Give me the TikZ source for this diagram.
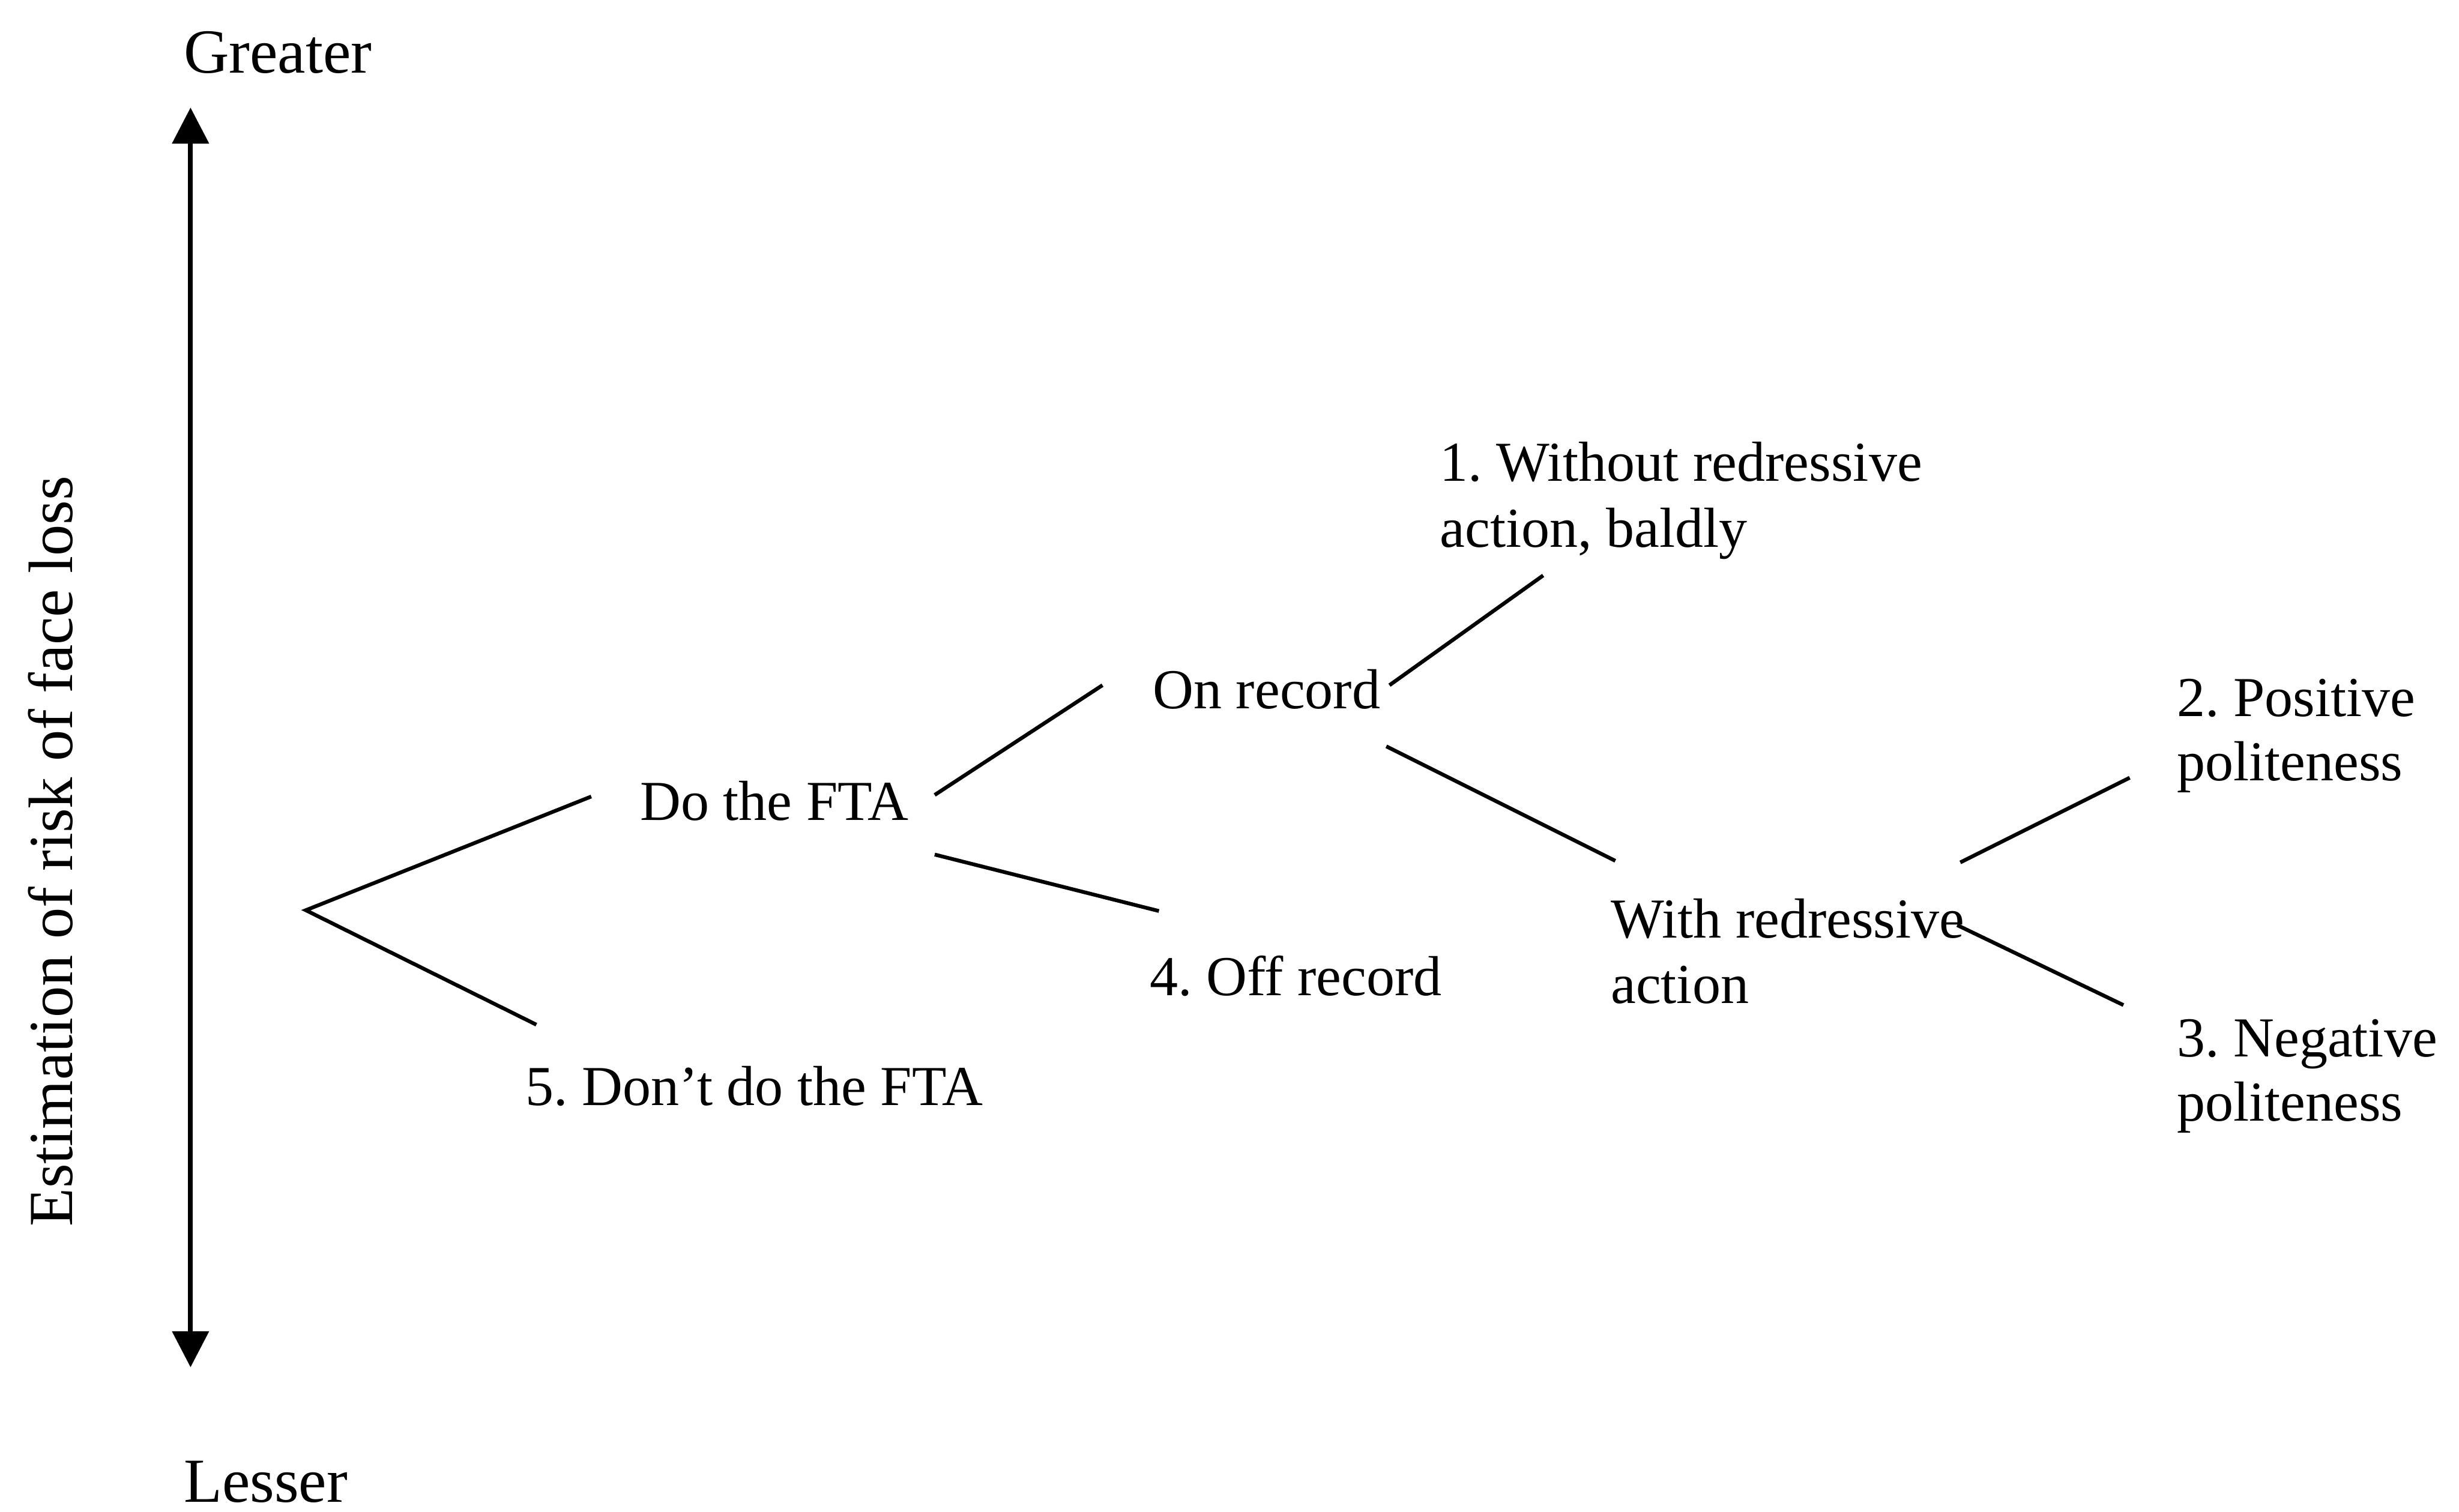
\documentclass[tikz,border=0pt]{standalone}
\usepackage{fontspec}
\setmainfont{Liberation Serif}
\usetikzlibrary{arrows.meta}
\begin{document}
\frenchspacing
\begin{tikzpicture}[x=1pt,y=-1pt,
  lbl/.style={anchor=base west,inner sep=0pt,font=\fontsize{36}{42}\selectfont},
  big/.style={inner sep=0pt,font=\fontsize{40}{46}\selectfont},
  branch/.style={line width=2.4pt},
  axis/.style={line width=3pt,{Triangle[width=23pt,length=23pt]}-{Triangle[width=23pt,length=23pt]}}]
\useasboundingbox (0,0) rectangle (1568,964);
% axis
\node[big,anchor=base west] (greater) at (117,46.5) {Greater};
\node[big,anchor=base west,text depth=0pt] (lesser) at (117,958) {Lesser};
\coordinate (axtop) at (121.5,68.6);
\coordinate (axbot) at (121.5,872);
\draw[axis] (axtop) -- (axbot);
\node[big,anchor=base,rotate=90] (estim) at (46,543) {Estimation of risk of face loss};
% labels
\node[lbl] (do) at (408,523) {Do the FTA};
\node[lbl] (dont) at (335,705) {5. Don’t do the FTA};
\node[lbl] (on) at (735,452) {On record};
\node[lbl] (off) at (733,635) {4. Off record};
\node[lbl] (without) at (918,307) {1. Without redressive};
\node[lbl] (withoutb) at (918,349) {action, baldly};
\node[lbl] (with) at (1027,598) {With redressive};
\node[lbl] (withb) at (1027,640) {action};
\node[lbl] (pos) at (1388,457) {2. Positive};
\node[lbl] (posb) at (1388,498) {politeness};
\node[lbl] (neg) at (1388,674) {3. Negative};
\node[lbl] (negb) at (1388,715) {politeness};
% branch end points
\coordinate (root) at (195,580.5);
\coordinate (doL) at (377,508);
\coordinate (dontL) at (342,653.5);
\coordinate (doRu) at (596,507);
\coordinate (onL) at (703,437);
\coordinate (doRd) at (596,545);
\coordinate (offL) at (739,581);
\coordinate (onRu) at (886,437);
\coordinate (withoutL) at (984,367);
\coordinate (onRd) at (884,476);
\coordinate (withL) at (1030,549);
\coordinate (withRu) at (1250,550);
\coordinate (posL) at (1358,496);
\coordinate (withRd) at (1248,590);
\coordinate (negL) at (1354,641);
% branches
\draw[branch] (doL) -- (root) -- (dontL);
\draw[branch] (doRu) -- (onL);
\draw[branch] (doRd) -- (offL);
\draw[branch] (onRu) -- (withoutL);
\draw[branch] (onRd) -- (withL);
\draw[branch] (withRu) -- (posL);
\draw[branch] (withRd) -- (negL);
\end{tikzpicture}
\end{document}
